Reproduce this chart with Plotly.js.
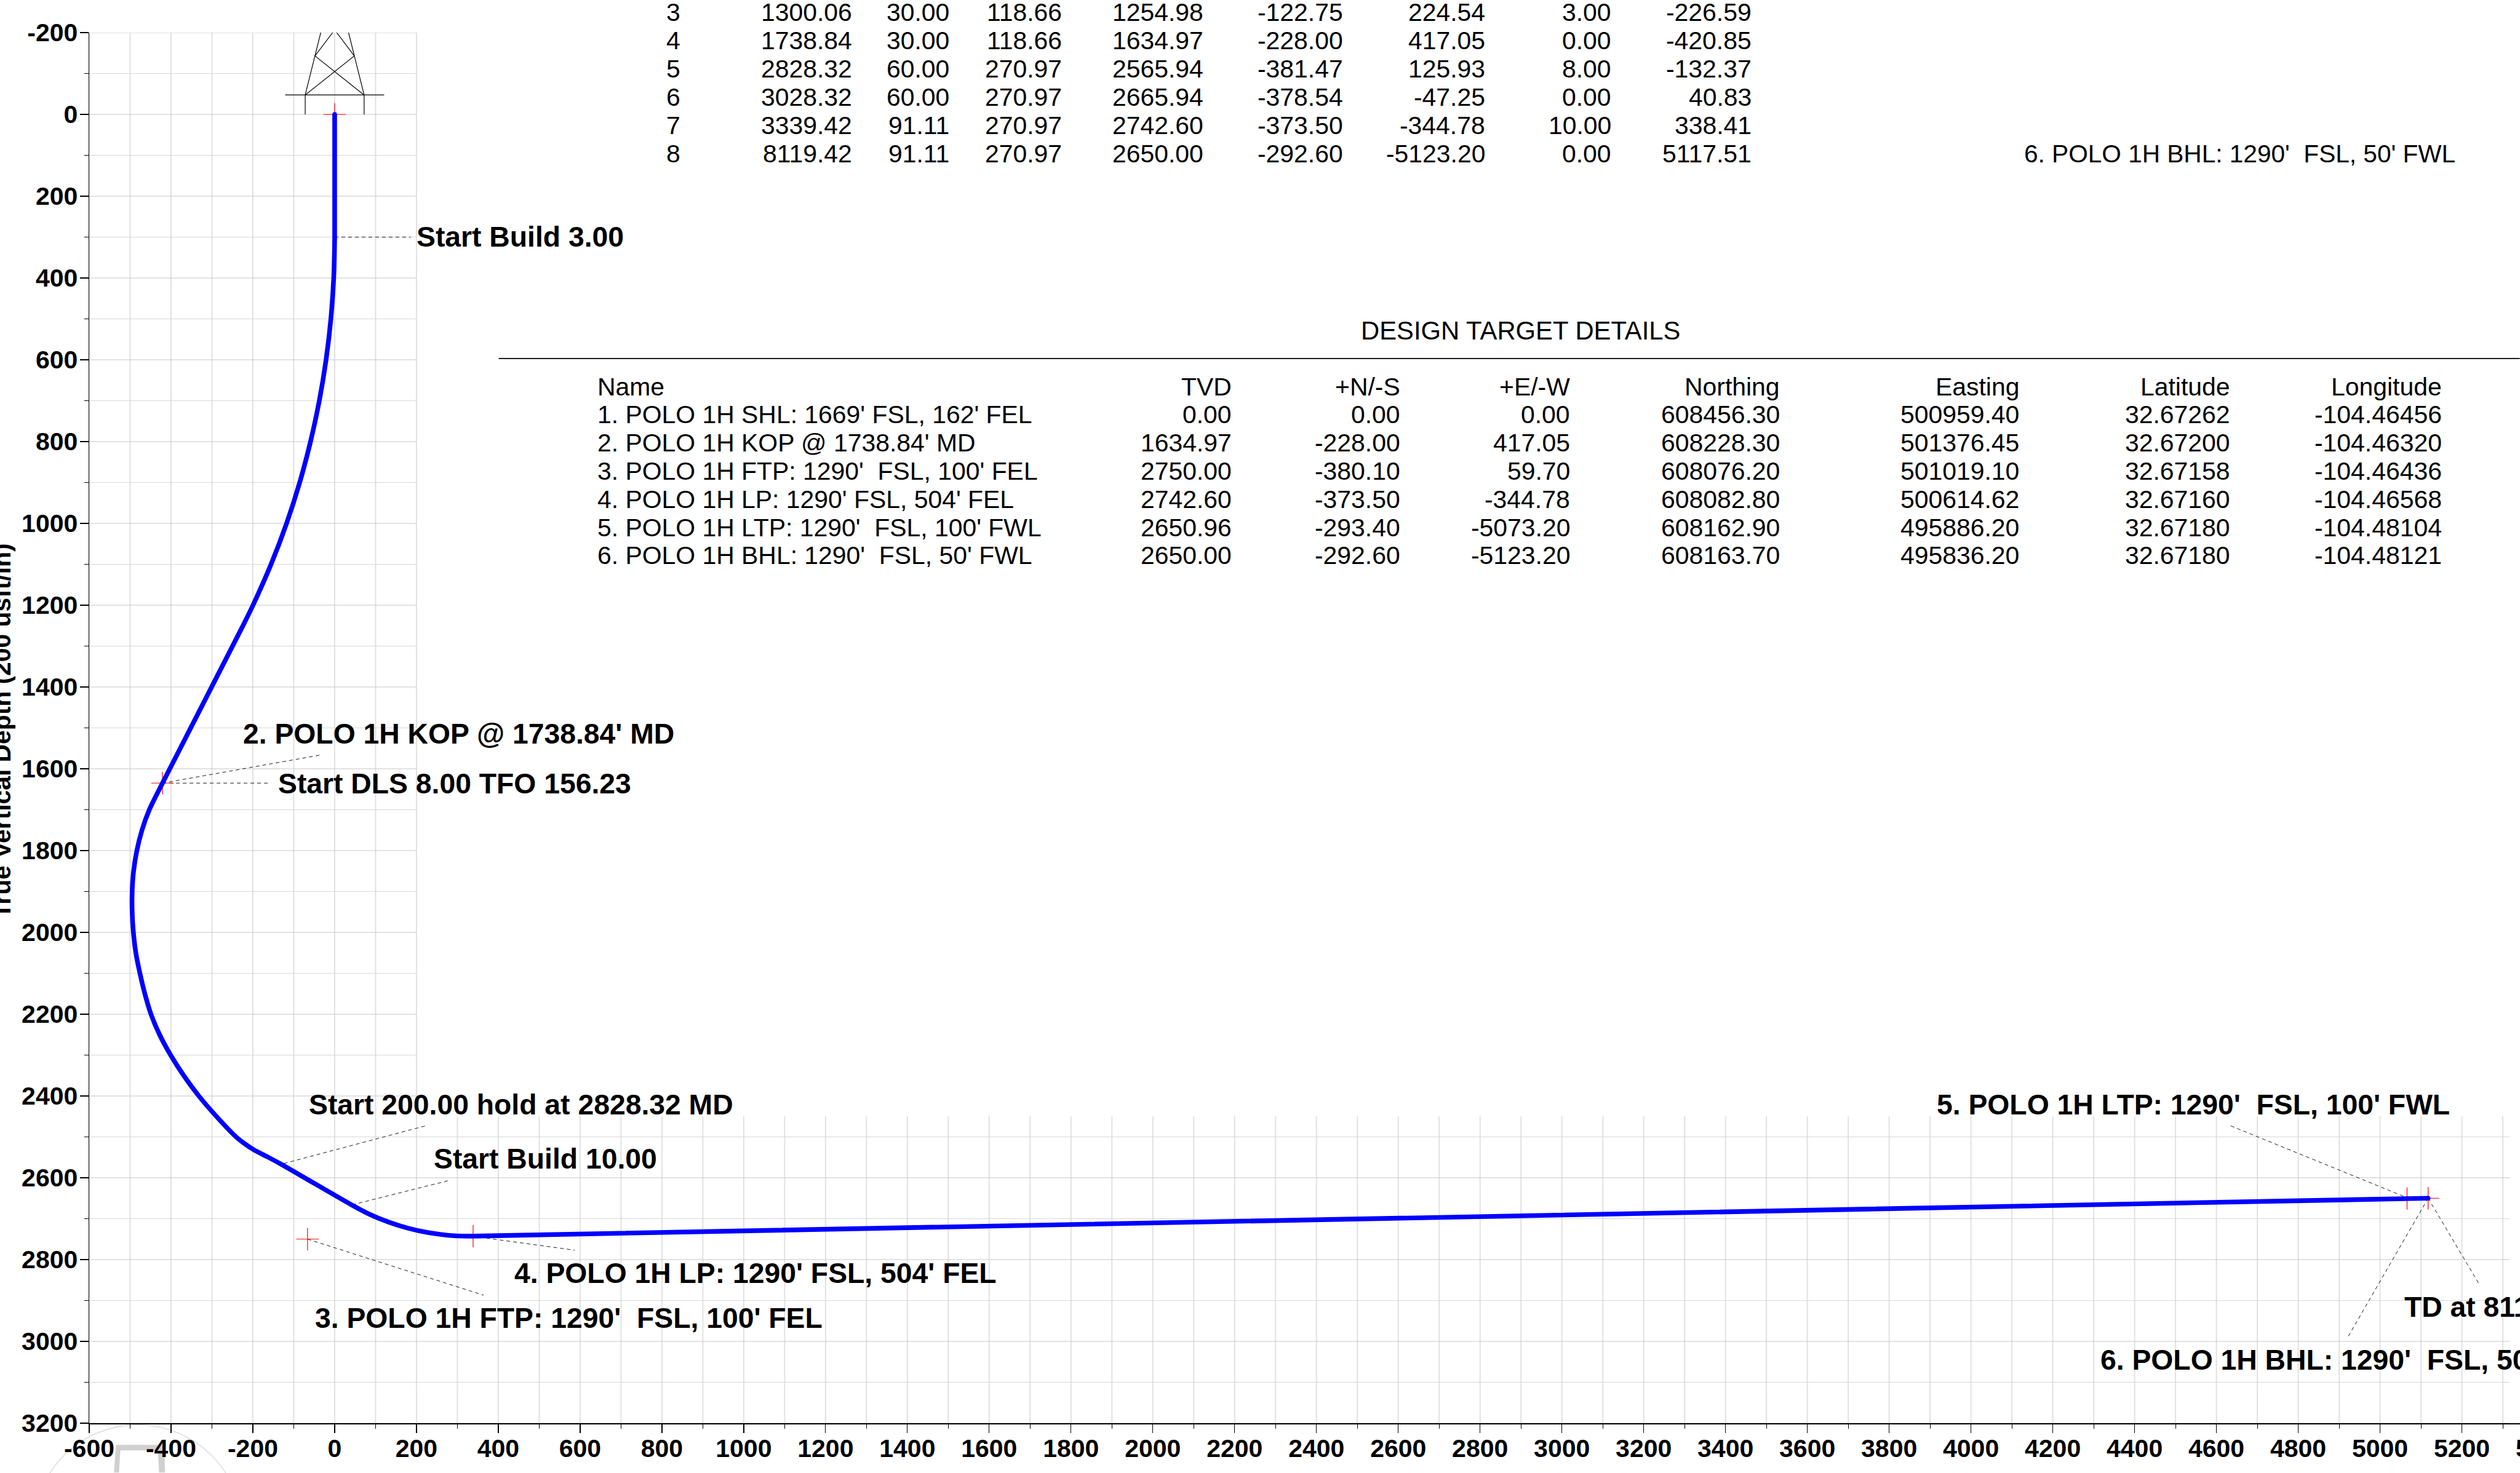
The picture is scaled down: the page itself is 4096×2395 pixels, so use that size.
<!DOCTYPE html>
<html>
<head>
<meta charset="utf-8">
<script src="https://cdn.plot.ly/plotly-3.0.1.min.js"></script>
<style>
html,body{margin:0;padding:0;background:#fff;overflow:hidden;width:4096px;height:2395px}
#clip{width:4096px;height:2395px;overflow:hidden;position:relative}
#chart{width:4290px;height:2395px}
</style>
</head>
<body>
<div id="clip"><div id="chart"></div></div>
<script>
// ---- well path (Vertical Section, True Vertical Depth)
const wellVS = [0,0,-2.3,-9.3,-21,-37.5,-59,-85.5,-117.5,-155.5,-199.6,-226.59,-420.85,-453,-471,-483.5,-491.5,-495,-495,-492,-486,-476,-464,-449,-428,-401,-369,-332,-289,-241,-221,-197,-162,-132.37,40.83,84.8,131.3,178.8,227.8,276.8,327.3,338.41,5117.51];
const wellTVD = [0,300,400,500,600,700,800,900,1000,1100,1200,1254.98,1634.97,1700,1750,1800,1850,1900,1950,2000,2050,2100,2150,2200,2250,2300,2350,2400,2450,2500,2516,2532,2550,2565.94,2665.94,2689,2708.1,2723.1,2734,2740.5,2742.7,2742.6,2650];

// ---- design targets
const targetNames = ["1. POLO 1H SHL: 1669' FSL, 162' FEL","2. POLO 1H KOP @ 1738.84' MD","3. POLO 1H FTP: 1290'  FSL, 100' FEL","4. POLO 1H LP: 1290' FSL, 504' FEL","5. POLO 1H LTP: 1290'  FSL, 100' FWL","6. POLO 1H BHL: 1290'  FSL, 50' FWL"];
const targetTVD = ["0.00","1634.97","2750.00","2742.60","2650.96","2650.00"];
const targetNS = ["0.00","-228.00","-380.10","-373.50","-293.40","-292.60"];
const targetEW = ["0.00","417.05","59.70","-344.78","-5073.20","-5123.20"];
const targetNorthing = ["608456.30","608228.30","608076.20","608082.80","608162.90","608163.70"];
const targetEasting = ["500959.40","501376.45","501019.10","500614.62","495886.20","495836.20"];
const targetLat = ["32.67262","32.67200","32.67158","32.67160","32.67180","32.67180"];
const targetLon = ["-104.46456","-104.46320","-104.46436","-104.46568","-104.48104","-104.48121"];
const targetVS = [0,-420.85,-66.3,338.41,5066,5117.51];

// ---- section details (rows 3 to 8)
const secNo = ["3","4","5","6","7","8"];
const secMD = ["1300.06","1738.84","2828.32","3028.32","3339.42","8119.42"];
const secInc = ["30.00","30.00","60.00","60.00","91.11","91.11"];
const secAzi = ["118.66","118.66","270.97","270.97","270.97","270.97"];
const secTVD = ["1254.98","1634.97","2565.94","2665.94","2742.60","2650.00"];
const secNS = ["-122.75","-228.00","-381.47","-378.54","-373.50","-292.60"];
const secEW = ["224.54","417.05","125.93","-47.25","-344.78","-5123.20"];
const secDLS = ["3.00","0.00","8.00","0.00","10.00","0.00"];
const secVS = ["-226.59","-420.85","-132.37","40.83","338.41","5117.51"];
const secTarget = ["","","","","","6. POLO 1H BHL: 1290'  FSL, 50' FWL"];

// ---- tick values
const xTicks = [-600,-400,-200,0,200,400,600,800,1000,1200,1400,1600,1800,2000,2200,2400,2600,2800,3000,3200,3400,3600,3800,4000,4200,4400,4600,4800,5000,5200,5400];
const yTicks = [-200,0,200,400,600,800,1000,1200,1400,1600,1800,2000,2200,2400,2600,2800,3000,3200];

// ---- callout labels
const calloutText = ["Start Build 3.00","2. POLO 1H KOP @ 1738.84' MD","Start DLS 8.00 TFO 156.23","Start 200.00 hold at 2828.32 MD","Start Build 10.00","4. POLO 1H LP: 1290' FSL, 504' FEL","3. POLO 1H FTP: 1290'  FSL, 100' FEL","5. POLO 1H LTP: 1290'  FSL, 100' FWL","TD at 8119.42","6. POLO 1H BHL: 1290'  FSL, 50' FWL"];
const calloutFromVS = [0,-420.85,-420.85,-124,43,338,-66.3,5057,5117.51,5117.51];
const calloutFromTVD = [300,1635,1635,2565,2666,2743,2750,2645,2650,2650];
const calloutToVS = [186,-33,-156,222,282,587,364,4635,5241,4921];
const calloutToTVD = [300,1566,1635,2473,2606,2777,2887,2473,2858,2990];

// ---- derrick outline
const derrickVS = [-72,-72,-34,null,72,72,34,null,-121,121,null,-72,48,5,null,72,-48,-5];
const derrickTVD = [0,-47.5,-200,null,0,-47.5,-200,null,-47.5,-47.5,null,-47.5,-143,-200,null,-47.5,-143,-200];

// ---- layout geometry: reference pixels are scaled by K
const K = 4096/5913;
const figW = 4290, figH = 2395;
const L = 209*K, T = 77*K, plotW = 6100*0.96*K, plotH = 3400*0.96*K;
const px = f => (f*K - L)/plotW;
const py = f => 1 - (f*K - T)/plotH;

// grid helpers
function vLines(vals,y0,y1){const x=[],y=[];vals.forEach(v=>{x.push(v,v,null);y.push(y0,y1,null);});return {x,y};}
function hLines(vals,x0,x1){const x=[],y=[];vals.forEach(v=>{x.push(x0,x1,null);y.push(v,v,null);});return {x,y};}
const gridXUpper = [-600,-500,-400,-300,-200,-100,0,100,200];
const gridXLower = [300,400,500,600,700,800,900,1000,1100,1200,1300,1400,1500,1600,1700,1800,1900,2000,2100,2200,2300,2400,2500,2600,2700,2800,2900,3000,3100,3200,3300,3400,3500,3600,3700,3800,3900,4000,4100,4200,4300,4400,4500,4600,4700,4800,4900,5000,5100,5200,5300];
const gridYUpperMajor = [-200,0,200,400,600,800,1000,1200,1400,1600,1800,2000,2200,2400];
const gridYUpperMinor = [-100,100,300,500,700,900,1100,1300,1500,1700,1900,2100,2300];
const gridYLowerMajor = [2600,2800,3000,3200];
const gridYLowerMinor = [2500,2700,2900,3100];

const vU = vLines(gridXUpper,-200,3200), vL = vLines(gridXLower,2450,3200);
const hUM = hLines(gridYUpperMajor,-600,200), hUm = hLines(gridYUpperMinor,-600,200);
const hLM = hLines(gridYLowerMajor,-600,5317), hLm = hLines(gridYLowerMinor,-600,5317);
const gl = (g,color,w)=>({x:g.x,y:g.y,mode:'lines',line:{color,width:w},hoverinfo:'skip',showlegend:false,connectgaps:false});

// callout leaders
const lx=[],ly=[];
calloutFromVS.forEach((v,i)=>{lx.push(v,calloutToVS[i],null);ly.push(calloutFromTVD[i],calloutToTVD[i],null);});

const targetTVDnum = targetTVD.map(Number);
const traces = [
  gl(vU,'#e0e0e0',1.9), gl(vL,'#e0e0e0',1.9),
  gl(hUm,'#d8d8d8',1), gl(hLm,'#d8d8d8',1),
  gl(hUM,'#c6c6c6',1), gl(hLM,'#c6c6c6',1),
  {x:derrickVS,y:derrickTVD,mode:'lines',line:{color:'#000',width:1.2},hoverinfo:'skip',showlegend:false},
  {x:lx,y:ly,mode:'lines',line:{color:'#000',width:0.9,dash:'6px,5px'},hoverinfo:'skip',showlegend:false},
  {x:targetVS,y:targetTVDnum,mode:'markers',marker:{symbol:'cross-thin',size:26,line:{color:'#ff0000',width:1.2}},hoverinfo:'skip',showlegend:false},
  {x:wellVS,y:wellTVD,mode:'lines',line:{color:'#0000ff',width:7.6,shape:'spline',smoothing:0.7},name:'Well path',showlegend:false},
  {x:[wellVS[0],wellVS[wellVS.length-1]],y:[wellTVD[0],wellTVD[wellTVD.length-1]],mode:'markers',marker:{color:'#0000ff',size:7.6},hoverinfo:'skip',showlegend:false}
];

// text helpers
const ann = [];
const FONT = 'Liberation Sans, Arial, sans-serif';
function tx(text,fx,fy,anchor,size,weight){
  ann.push({text:text,xref:'paper',yref:'paper',x:px(fx),y:py(fy),xanchor:anchor,yanchor:'middle',showarrow:false,
    font:{family:FONT,size:size,color:'#000',weight:weight||400},borderpad:0,borderwidth:0,align:anchor});
}
// section table
const T_SIZE = 40.9;
const secRowY = i => 30 + i*66.4;
[[secNo,1596],[secMD,2000],[secInc,2228],[secAzi,2492],[secTVD,2823],[secNS,3152],[secEW,3485],[secDLS,3781],[secVS,4110]].forEach(c=>{
  c[0].forEach((s,i)=>tx(s,c[1],secRowY(i),'right',T_SIZE));
});
secTarget.forEach((s,i)=>{ if(s) tx(s,4750,secRowY(i),'left',40.6); });
// design target table
tx('DESIGN TARGET DETAILS',3568,776,'center',41.8);
const hdrY = 908.6, rowY = i => 973.7 + i*66.2;
tx('Name',1402,hdrY,'left',T_SIZE);
[['TVD',2890,targetTVD],['+N/-S',3285,targetNS],['+E/-W',3683.5,targetEW],['Northing',4177,targetNorthing],['Easting',4738,targetEasting],['Latitude',5233,targetLat],['Longitude',5730,targetLon]].forEach(c=>{
  tx(c[0],c[1],hdrY,'right',T_SIZE);
  c[2].forEach((s,i)=>tx(s,c[1],rowY(i),'right',T_SIZE));
});
targetNames.forEach((s,i)=>tx(s,1402,rowY(i),'left',T_SIZE));
// callouts
const P = 3.771;
const calloutLeft = [259,151,173,192,270,320,196,1205,1496,1307];
const calloutMid = [147.7,456.7,487.7,687.5,721.5,792.5,820.5,687.5,813.5,846.5];
calloutText.forEach((s,i)=>tx(s,calloutLeft[i]*P,calloutMid[i]*P,'left',46.3,700));
// vertical axis title, half off the left edge as in the reference
ann.push({text:'True Vertical Depth (200 usft/in)',xref:'paper',yref:'paper',x:px(4),y:py(1716),xanchor:'center',yanchor:'middle',textangle:-90,showarrow:false,
  font:{family:FONT,size:40.8,weight:700,color:'#000'}});

const layout = {
  width:figW,height:figH,
  paper_bgcolor:'#fff',plot_bgcolor:'#fff',
  margin:{l:L,t:T,r:figW-L-plotW,b:figH-T-plotH,pad:0},
  showlegend:false,
  font:{family:FONT,color:'#000'},
  xaxis:{range:[-600,5500],tickmode:'array',tickvals:xTicks,ticktext:xTicks.map(String),
    showgrid:false,zeroline:false,showline:true,linecolor:'#000',linewidth:1.5,ticks:'outside',ticklen:14,tickwidth:1.3,tickcolor:'#000',
    tickfont:{family:FONT,size:41,weight:700,color:'#000'},tickangle:0,automargin:false,ticklabelstandoff:-10,
    minor:{tickmode:'linear',tick0:0,dtick:100,ticks:'outside',ticklen:7,tickwidth:1,tickcolor:'#000',showgrid:false}},
  yaxis:{range:[3200,-200],tickmode:'array',tickvals:yTicks,ticktext:yTicks.map(String),
    showgrid:false,zeroline:false,showline:true,linecolor:'#000',linewidth:1.5,ticks:'outside',ticklen:14,tickwidth:1.3,tickcolor:'#000',
    tickfont:{family:FONT,size:41,weight:700,color:'#000'},automargin:false,ticklabelstandoff:-5,
    minor:{tickmode:'linear',tick0:0,dtick:100,ticks:'outside',ticklen:7,tickwidth:1,tickcolor:'#000',showgrid:false}},
  annotations:ann,
  shapes:[
    {type:'line',xref:'paper',yref:'paper',x0:px(1170),x1:px(5913),y0:py(842),y1:py(842),line:{color:'#000',width:1.8}},
    {type:'circle',xref:'paper',yref:'paper',layer:'below',x0:px(323-245),x1:px(323+245),y0:py(3345),y1:py(3835),line:{color:'#dcdcdc',width:1.5}},
    {type:'path',xref:'paper',yref:'paper',layer:'below',fillcolor:'#d0d0d0',line:{width:0},
     path:'M '+[[272,3392],[385,3392],[387,3457],[373,3457],[370,3405],[282,3405],[279,3457],[267,3457]].map(p=>px(p[0])+' '+py(p[1])).join(' L ')+' Z'}
  ]
};
Plotly.newPlot('chart',traces,layout,{displayModeBar:false,responsive:false,staticPlot:true});
</script>
</body>
</html>
